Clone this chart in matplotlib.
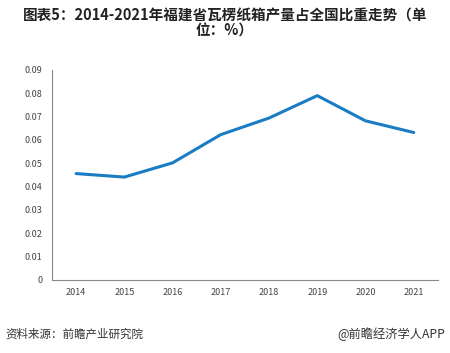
import matplotlib
matplotlib.use("Agg")
import matplotlib.pyplot as plt

plt.rcParams['font.family'] = ['Noto Sans CJK SC', 'DejaVu Sans']

years = ["2014", "2015", "2016", "2017", "2018", "2019", "2020", "2021"]
share = [0.0456, 0.0441, 0.0502, 0.0623, 0.0694, 0.0790, 0.0682, 0.0632]
yticks = [0, 0.01, 0.02, 0.03, 0.04, 0.05, 0.06, 0.07, 0.08, 0.09]
ytick_labels = ["0", "0.01", "0.02", "0.03", "0.04", "0.05", "0.06", "0.07", "0.08", "0.09"]

fig = plt.figure(figsize=(4.5, 3.53), dpi=100)
ax = fig.add_axes([0.1156, 0.2068, 0.8574, 0.595])

x = list(range(len(years)))
ax.plot(x, share, color="#1a7cc4", linewidth=2.2, solid_joinstyle="round", solid_capstyle="round")

ax.set_xlim(-0.5, len(years) - 0.5)
ax.set_ylim(0, 0.09)
ax.set_yticks(yticks)
ax.set_yticklabels(ytick_labels)
ax.set_xticks(x)
ax.set_xticklabels(years)
ax.tick_params(axis="both", length=0, labelsize=6.5, colors="#444444")
ax.tick_params(axis="y", pad=7)
ax.tick_params(axis="x", pad=6)
for s in ["top", "right"]:
    ax.spines[s].set_visible(False)
for s in ["left", "bottom"]:
    ax.spines[s].set_color("#888888")
    ax.spines[s].set_linewidth(0.8)

fig.text(0.5, 0.978, "图表5：2014-2021年福建省瓦楞纸箱产量占全国比重走势（单\n位：%）",
         ha="center", va="top", fontsize=10.5, fontweight="bold", color="#222222", linespacing=0.9)
fig.text(0.012, 0.035, "资料来源：前瞻产业研究院", ha="left", va="bottom", fontsize=8.3, color="#333333")
fig.text(0.99, 0.035, "@前瞻经济学人APP", ha="right", va="bottom", fontsize=8.8, color="#333333")

fig.savefig("out.png", dpi=100)
